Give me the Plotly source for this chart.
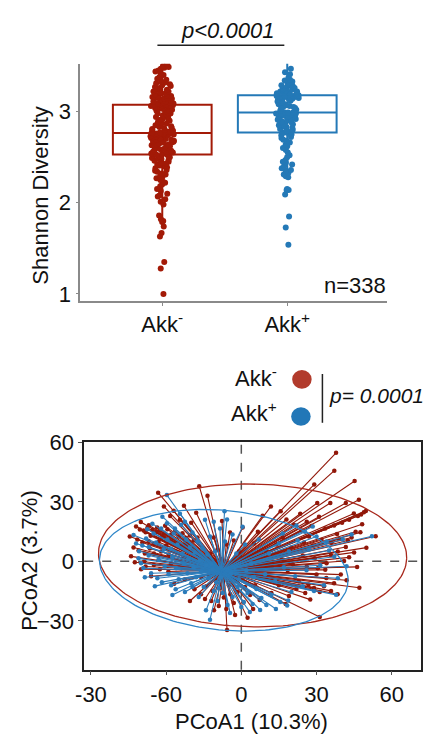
import numpy as np
import plotly.graph_objects as go

# ---------------- data ----------------
groups = ["Akk-", "Akk+"]
group_labels = ["Akk<sup>-</sup>", "Akk<sup>+</sup>"]

shannon_akk_neg = [
    1.00, 1.28, 1.35, 1.63, 1.67, 1.74, 1.79, 1.80, 1.82, 1.86, 1.98,
    2.01, 2.04, 2.07, 2.08, 2.10, 2.13, 2.15, 2.18, 2.20, 2.22, 2.23, 2.25, 2.27, 2.28, 2.29,
    2.31, 2.32, 2.34, 2.35, 2.36, 2.38, 2.39, 2.40, 2.41, 2.42, 2.43, 2.44, 2.45, 2.46, 2.47,
    2.48, 2.48, 2.49, 2.50, 2.50, 2.51, 2.52, 2.52, 2.53,
    2.53, 2.54, 2.54, 2.55, 2.56, 2.56, 2.57, 2.58, 2.58, 2.59,
    2.60, 2.60, 2.61, 2.62, 2.62, 2.63, 2.64, 2.64, 2.65, 2.66,
    2.66, 2.67, 2.67, 2.68, 2.68, 2.69, 2.69, 2.70, 2.70, 2.71,
    2.71, 2.72, 2.72, 2.72, 2.73, 2.73, 2.73, 2.74, 2.74, 2.74,
    2.75, 2.75, 2.75, 2.75, 2.76, 2.76, 2.76, 2.76, 2.76, 2.76,
    2.77, 2.77, 2.78, 2.78, 2.79, 2.80, 2.80, 2.81, 2.82, 2.82,
    2.83, 2.84, 2.85, 2.85, 2.86, 2.87, 2.88, 2.88, 2.89, 2.90,
    2.91, 2.92, 2.92, 2.93, 2.94, 2.95, 2.95, 2.96, 2.97, 2.98,
    2.98, 2.99, 3.00, 3.01, 3.01, 3.02, 3.03, 3.03, 3.04, 3.05,
    3.05, 3.06, 3.06, 3.06, 3.07, 3.07, 3.07, 3.07, 3.07, 3.07,
    3.08, 3.08, 3.09, 3.09, 3.10, 3.10, 3.11, 3.11, 3.12, 3.12,
    3.13, 3.13, 3.14, 3.14, 3.15, 3.15, 3.16, 3.16, 3.17, 3.18,
    3.18, 3.19, 3.20, 3.20, 3.21, 3.22, 3.22, 3.23, 3.24, 3.25,
    3.26, 3.27, 3.28, 3.29, 3.30, 3.31, 3.32, 3.33, 3.35, 3.36,
    3.38, 3.40, 3.42, 3.44, 3.45, 3.47, 3.48, 3.49, 3.50, 3.52,
]

shannon_akk_pos = [
    1.54, 1.73, 1.85, 2.09, 2.14, 2.14, 2.15,
    2.28, 2.29, 2.31, 2.33, 2.35, 2.36, 2.38, 2.40, 2.42, 2.44,
    2.45, 2.47, 2.50, 2.52, 2.55, 2.58, 2.60, 2.62, 2.64, 2.66,
    2.68, 2.69, 2.71, 2.72, 2.74, 2.75, 2.76, 2.77,
    2.77, 2.78, 2.79, 2.80, 2.81, 2.82, 2.83, 2.84, 2.85, 2.85,
    2.86, 2.87, 2.88, 2.88, 2.89, 2.90, 2.90, 2.91, 2.92, 2.92,
    2.93, 2.94, 2.94, 2.95, 2.95, 2.96, 2.96, 2.97, 2.97, 2.98,
    2.98, 2.98, 2.99, 2.99,
    2.99, 3.00, 3.01, 3.02, 3.03, 3.04, 3.05, 3.05, 3.06, 3.07,
    3.08, 3.08, 3.09, 3.10, 3.10, 3.11, 3.12, 3.12, 3.13, 3.13,
    3.14, 3.14, 3.15, 3.15, 3.15, 3.16, 3.16, 3.16, 3.17, 3.17,
    3.17, 3.17, 3.17, 3.17,
    3.18, 3.18, 3.19, 3.19, 3.20, 3.20, 3.21, 3.21, 3.22, 3.22,
    3.23, 3.23, 3.24, 3.24, 3.25, 3.25, 3.26, 3.26, 3.27, 3.28,
    3.28, 3.29, 3.30, 3.30, 3.31, 3.32, 3.33, 3.34, 3.35, 3.37,
    3.41, 3.43, 3.47, 3.57, 3.61,
]

# PCoA sample scores (PCoA1, PCoA2)
pcoa_akk_neg = [
    (37.8, 54.7), (37.1, 45.7), (45.2, 40.5), (29.1, 38.7), (46.9, 31.0), (41.7, 29.4), (35.5, 29.4), (30.3, 29.4), (49.7, 25.4), (44.9, 24.1),
    (11.8, 27.7), (15.7, 25.2), (48.2, 18.7), (53.6, 12.6), (47.5, 14.6), (45.6, 14.9), (38.2, 13.8), (41.7, 7.2), (49.9, 6.9), (46.2, -2.8),
    (47.1, -13.3), (39.7, -6.7), (38.4, -16.6), (35.8, -14.9), (31.3, -28.0), (27.5, -19.3), (31.3, -15.4), (18.0, 21.1), (26.1, 20.0), (6.6, 14.9),
    (26.8, -11.7), (33.5, -4.3), (41.0, 0.2), (35.8, 3.1), (29.3, 1.5), (26.1, -2.6), (22.9, -10.0), (33.9, -8.4), (30.0, -6.7), (48.9, 24.8),
    (47.8, 23.6), (46.5, 22.9), (43.0, 21.0), (40.2, 19.5), (37.0, 18.0), (33.5, 16.5), (28.0, 17.8), (24.0, 15.5), (21.0, 18.5), (16.5, 12.0),
    (44.0, 12.0), (42.5, 10.5), (39.0, 11.2), (36.0, 9.5), (32.0, 10.8), (28.5, 8.0), (25.0, 9.5), (20.0, 7.0), (14.0, 8.5), (10.0, 5.5),
    (45.0, 4.5), (43.0, 2.0), (38.5, 5.0), (34.0, -1.0), (30.5, -3.5), (24.5, 3.0), (20.5, -1.5), (16.0, 1.0), (12.0, -3.0), (8.0, 2.0),
    (42.0, -9.5), (37.0, -11.0), (33.0, -12.5), (29.0, -13.5), (25.5, -16.0), (22.0, -14.0), (19.0, -17.5), (15.0, -12.0), (12.0, -16.0), (10.0, -9.0),
    (18.5, -4.5), (27.0, 12.5), (31.0, 22.5), (23.5, 24.0), (8.5, 23.0),
    (-16.8, 37.9), (-33.2, 34.6), (-13.5, 33.0), (-30.9, 27.7), (-22.9, 28.0), (-28.4, 22.8), (-40.1, 19.8), (-36.9, 18.2), (-33.6, 17.1), (-30.4, 17.9),
    (-38.2, 14.6), (-36.2, 12.9), (-31.7, 12.1), (-34.9, 3.9), (-38.8, -0.2), (-38.2, -2.6), (-34.9, -1.8), (-29.1, -5.1), (-26.8, -11.3), (-22.6, -9.2),
    (-18.7, -14.1), (-16.1, -16.6), (-7.7, 20.3), (-42.0, 17.5), (-40.5, 16.0), (-39.0, 15.5), (-37.5, 16.8), (-35.5, 15.8), (-34.0, 14.8), (-32.5, 15.5),
    (-31.0, 14.0), (-29.5, 16.2), (-28.0, 13.5), (-26.5, 15.0), (-25.0, 12.5), (-23.5, 14.2), (-22.0, 11.8), (-20.5, 13.0), (-19.0, 10.5), (-17.5, 12.0),
    (-41.5, 11.0), (-39.5, 9.5), (-37.0, 10.2), (-35.0, 8.8), (-33.0, 9.8), (-30.0, 8.0), (-27.5, 9.2), (-25.0, 7.5), (-22.5, 8.5), (-20.0, 6.5),
    (-43.0, 7.0), (-41.0, 5.5), (-38.5, 4.0), (-36.5, 6.5), (-32.0, 5.0), (-29.0, 3.5), (-26.0, 4.5), (-23.0, 2.5), (-44.0, 2.5), (-42.5, -0.5),
    (-40.0, -4.0), (-36.0, -7.5), (-32.5, -4.0), (-28.0, -1.0), (-24.0, -3.5), (-44.5, 12.5), (-27.0, 25.5), (-20.0, 19.5), (-24.5, 21.0), (-18.0, 24.5),
    (-5.7, -34.6), (-10.9, -24.7), (-7.0, -18.2), (-4.4, -16.6), (0.5, 17.1), (0.8, -20.7), (4.7, -24.0), (7.3, -19.5), (17.7, -21.5), (-12.0, -20.0),
    (-9.0, -22.5), (-6.0, -24.0), (-3.0, -21.0), (-1.5, -15.5), (1.5, -13.0), (3.5, -17.0), (5.5, -12.0), (-14.0, -12.5), (-11.5, -15.0), (-8.5, -13.5),
    (-5.0, -12.0), (-2.0, -10.0), (0.5, -8.5), (3.0, -6.0), (-16.0, -8.0), (-13.0, -7.0), (-10.0, -9.5), (-3.5, -7.5), (-15.5, 2.5), (-12.5, 4.0),
    (-9.5, 6.0), (-6.0, 8.5), (-3.0, 10.5), (-1.0, 5.0), (2.0, 1.5), (-18.0, -2.0), (-11.0, 12.0), (-4.5, 14.5), (5.0, 9.0), (-2.5, -27.0),
    (2.5, -28.5), (-14.5, -19.0), (6.0, -4.0), (-8.0, 1.0), (-20.5, -20.0),
]

pcoa_akk_pos = [
    (-43.0, 13.3), (-40.8, 5.1), (-39.1, -3.4), (-31.7, -10.5), (-29.7, 33.4), (-29.7, 19.2), (-37.5, 16.2), (-36.9, 7.2), (-28.0, 6.4), (-26.2, -14.1),
    (-42.0, 9.0), (-41.0, 1.5), (-40.0, -1.0), (-38.0, 11.5), (-37.0, 3.0), (-36.0, -6.0), (-35.0, 14.0), (-34.0, 9.5), (-33.0, 1.0), (-33.5, -8.5),
    (-32.0, 16.5), (-31.0, 6.0), (-30.5, -2.5), (-29.5, 11.0), (-29.0, -6.5), (-28.0, -12.0), (-27.5, 2.0), (-27.0, 14.0), (-26.0, -3.5), (-25.5, 8.5),
    (-25.0, -9.0), (-24.0, 18.5), (-23.5, 4.0), (-23.0, -1.0), (-22.5, -15.5), (-22.0, 11.0), (-21.5, -6.0), (-21.0, 1.5), (-20.5, 7.0), (-20.0, -11.0),
    (-19.5, 14.5), (-19.0, -3.0), (-18.5, 4.5), (-18.0, -8.0), (-17.5, 10.0), (-17.0, -18.0), (-16.5, 0.5), (-16.0, -5.0), (-15.5, 6.5), (-15.0, -13.0),
    (-14.5, 21.0), (-14.0, -2.0), (-13.5, 3.5), (-13.0, -8.5), (-12.5, 12.5), (-12.0, -1.5), (-11.5, -4.0), (-11.0, -15.0), (-10.5, 5.0), (-10.0, -10.5),
    (-34.5, -12.5), (-38.5, -8.0), (-27.5, -17.0), (-24.5, 24.0), (-31.5, 22.5), (-35.5, 19.0), (-39.5, 8.0), (-26.5, 16.5), (-19.5, -13.0), (-22.5, 20.0),
    (-14.1, -24.7), (-12.5, -29.4), (3.4, -25.6), (18.3, -22.3), (18.7, -19.8), (13.8, -24.0), (-6.7, 25.2), (-5.7, 21.1), (0.5, 17.4), (-9.5, -20.0),
    (-7.5, -16.0), (-5.5, -22.0), (-3.5, -18.0), (-1.5, -13.0), (1.0, -20.5), (2.5, -16.0), (4.5, -21.5), (6.0, -14.0), (8.0, -18.5), (10.0, -22.0),
    (12.0, -17.0), (15.5, -20.5), (-8.0, -8.0), (-4.0, -6.0), (-1.0, -9.0), (2.0, -4.5), (5.0, -8.0), (-6.5, 10.0), (-3.5, 13.5), (-8.5, 16.5),
    (-2.0, 4.0), (1.5, 8.5), (4.0, -1.0), (-11.0, 20.0), (-4.5, -26.0), (0.0, -23.0), (7.5, -24.5), (-9.0, -13.5),
    (52.1, 12.6), (25.4, 14.9), (37.1, 2.3), (37.8, -16.9), (44.0, 13.5), (40.5, 11.0), (34.0, 10.0), (30.0, 12.5), (27.0, 6.0), (22.5, 10.5),
    (19.0, 5.0), (15.0, 9.0), (11.0, 4.0), (31.5, -2.0), (26.0, -4.5), (21.5, -7.5), (17.0, -3.0), (13.5, -10.0), (9.5, -6.5), (33.0, -12.0),
    (29.0, -15.0), (24.5, -12.5), (20.0, -15.5), (38.5, -8.5), (42.0, -2.5), (35.0, 5.5), (28.5, 17.5), (22.0, 18.0), (16.5, 14.0), (7.0, 11.0),
]

# group centroids and 95% ellipse parameters (center x, center y, semi-axis a, semi-axis b, angle deg)
centroid_neg = (-7.0, -4.5)
centroid_pos = (-8.0, -5.0)
ellipse_neg = (4.5, 3.0, 61.5, 36.0, -1.5)
ellipse_pos = (-7.0, -4.5, 50.0, 30.0, -9.0)

pcoa_x_ticks = [-60, -30, 0, 30, 60]
pcoa_x_ticktext = ["-30", "-60", "0", "30", "60"]
pcoa_y_ticks = [-30, 0, 30, 60]

# ---------------- styling ----------------
FONT = "Liberation Sans, Arial, sans-serif"
TXT = "#111111"
RED = "#a31a07"
BLUE = "#2479b7"
RED_LINE = "#911709"
BLUE_LINE = "#2b7bba"
RED_ELL = "#a8281c"
BLUE_ELL = "#2e86c8"
W, H = 423, 742


def px(x):
    return x / W


def py(y):
    return 1 - y / H


def spider(points, centroid):
    xs, ys = [], []
    for x, y in points:
        xs += [centroid[0], x, None]
        ys += [centroid[1], y, None]
    return xs, ys


def ellipse(params, n=200):
    cx, cy, a, b, ang = params
    t = np.linspace(0, 2 * np.pi, n)
    th = np.deg2rad(ang)
    ex = cx + a * np.cos(t) * np.cos(th) - b * np.sin(t) * np.sin(th)
    ey = cy + a * np.cos(t) * np.sin(th) + b * np.sin(t) * np.cos(th)
    return ex, ey


fig = go.Figure()

# ---- Shannon diversity boxplots ----
for name, vals, col in [(groups[0], shannon_akk_neg, RED), (groups[1], shannon_akk_pos, BLUE)]:
    fig.add_trace(go.Box(
        x=[name] * len(vals), y=vals, name=name,
        boxpoints="all", jitter=0.24, pointpos=0, width=0.79, whiskerwidth=0,
        line=dict(color=col, width=2), fillcolor="rgba(255,255,255,0)",
        marker=dict(color=col, size=6, opacity=1),
        xaxis="x", yaxis="y", showlegend=False,
    ))

# ---- PCoA spider plot ----
for pts, cen, col in [(pcoa_akk_neg, centroid_neg, RED_LINE),
                      (pcoa_akk_pos, centroid_pos, BLUE_LINE)]:
    sx, sy = spider(pts, cen)
    fig.add_trace(go.Scatter(x=sx, y=sy, mode="lines", line=dict(color=col, width=1.1),
                             xaxis="x2", yaxis="y2", showlegend=False, hoverinfo="skip"))
    fig.add_trace(go.Scatter(x=[p[0] for p in pts], y=[p[1] for p in pts], mode="markers",
                             marker=dict(color=col, size=4.5), xaxis="x2", yaxis="y2",
                             showlegend=False))

for params, col in [(ellipse_neg, RED_ELL), (ellipse_pos, BLUE_ELL)]:
    ex, ey = ellipse(params)
    fig.add_trace(go.Scatter(x=ex, y=ey, mode="lines", line=dict(color=col, width=1.3),
                             xaxis="x2", yaxis="y2", showlegend=False, hoverinfo="skip"))

tickfont = dict(family=FONT, size=22, color=TXT)

fig.update_layout(
    width=W, height=H, margin=dict(l=0, r=0, t=0, b=0),
    paper_bgcolor="white", plot_bgcolor="white",
    font=dict(family=FONT, color=TXT, size=22),
    xaxis=dict(domain=[px(73), px(387)], type="category", categoryorder="array",
               categoryarray=groups, range=[-0.656, 1.797],
               tickvals=groups, ticktext=group_labels, tickfont=tickfont,
               showline=True, linecolor="#8a8a8a", linewidth=1.5,
               ticks="outside", ticklen=3, tickcolor="#8a8a8a",
               showgrid=False, zeroline=False, anchor="y"),
    yaxis=dict(domain=[py(296), py(53)], range=[0.925, 3.525], tickvals=[1, 2, 3],
               tickfont=tickfont, showline=True, linecolor="#8a8a8a", linewidth=1.5,
               ticks="outside", ticklen=3, tickcolor="#8a8a8a",
               showgrid=False, zeroline=False, anchor="x"),
    xaxis2=dict(domain=[px(77), px(422)], range=[-62.7, 71.7], tickvals=pcoa_x_ticks,
                ticktext=pcoa_x_ticktext, tickfont=tickfont, showline=True, mirror=True,
                linecolor="#222222", linewidth=1.5, ticks="outside", ticklen=4,
                tickcolor="#555555", showgrid=False, zeroline=False, anchor="y2"),
    yaxis2=dict(domain=[py(674), py(441)], range=[-54.6, 60], tickvals=pcoa_y_ticks,
                tickfont=tickfont, showline=True, mirror=True, linecolor="#222222",
                linewidth=1.5, ticks="outside", ticklen=4, tickcolor="#555555",
                showgrid=False, zeroline=False, anchor="x2"),
)

shapes = [
    # zero reference lines of the ordination
    dict(type="line", xref="x2", yref="y2 domain", x0=0, x1=0, y0=0, y1=1,
         line=dict(color="#555555", width=1.5, dash="dash"), layer="below"),
    dict(type="line", xref="x2 domain", yref="y2", x0=0, x1=1, y0=0, y1=0,
         line=dict(color="#555555", width=1.5, dash="dash"), layer="below"),
    # significance bar
    dict(type="line", xref="paper", yref="paper", x0=px(152), x1=px(282), y0=py(34), y1=py(34),
         line=dict(color="#222222", width=1.5)),
    # legend keys
    dict(type="circle", xref="paper", yref="paper", x0=px(290), x1=px(310), y0=py(386), y1=py(367),
         fillcolor="#b23b2c", line=dict(width=0)),
    dict(type="circle", xref="paper", yref="paper", x0=px(289), x1=px(309), y0=py(424), y1=py(405),
         fillcolor="#2277b7", line=dict(width=0)),
    dict(type="line", xref="paper", yref="paper", x0=px(321), x1=px(321), y0=py(371), y1=py(421),
         line=dict(color="#222222", width=1.5)),
]
fig.update_layout(shapes=shapes)

ann = [
    dict(text="Shannon Diversity", x=px(32), y=py(188), textangle=-90, size=22),
    dict(text="<i>p&lt;0.0001</i>", x=px(224), y=py(19), size=22),
    dict(text="n=338", x=px(388), y=py(280), xanchor="right", size=22),
    dict(text="Akk<sup>-</sup>", x=px(277), y=py(374), xanchor="right", size=22),
    dict(text="Akk<sup>+</sup>", x=px(277), y=py(410), xanchor="right", size=22),
    dict(text="<i>p= 0.0001</i>", x=px(326), y=py(393), xanchor="left", size=21),
    dict(text="PCoA2 (3.7%)", x=px(21), y=py(562), textangle=-90, size=22),
    dict(text="PCoA1 (10.3%)", x=px(248), y=py(727), size=22),
]
annotations = []
for a in ann:
    size = a.pop("size")
    a.setdefault("xanchor", "center")
    a.update(xref="paper", yref="paper", yanchor="middle", showarrow=False,
             font=dict(family=FONT, color=TXT, size=size))
    annotations.append(a)
fig.update_layout(annotations=annotations)

fig.write_html("out.html")
